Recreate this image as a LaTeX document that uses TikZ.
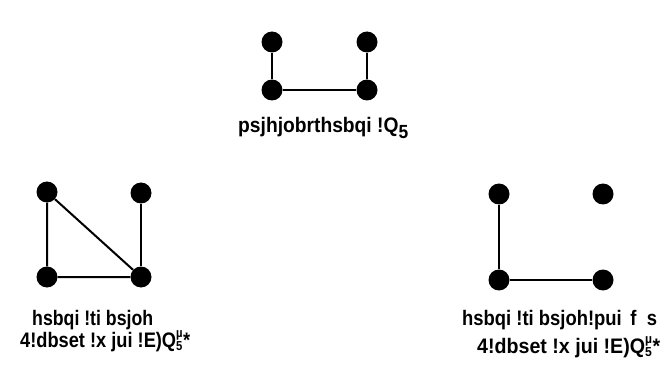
\documentclass[tikz,border=0pt]{standalone}
\usepackage{fontspec}
\setmainfont{Liberation Sans}
\usepackage{graphicx}
\newcommand{\subsup}{\ensuremath{{}^{\raisebox{-2pt}{\fontsize{13}{13}\selectfont µ}}_{\raisebox{0pt}{\fontsize{13}{13}\selectfont\bfseries 5}}}}
\newcommand{\fitw}[2]{\resizebox{#1}{\height}{#2}}
\begin{document}
\begin{tikzpicture}[x=1pt,y=-1pt,
  vtx/.style={circle,fill=black,inner sep=0pt,minimum size=21pt},
  edg/.style={line width=2pt},
  lbl/.style={inner sep=0pt,anchor=base west,font=\fontsize{21}{23}\selectfont\bfseries}]
\useasboundingbox (0,0) rectangle (662,377);
% top graph
\node[vtx] (a1) at (272,42) {};
\node[vtx] (a2) at (367,42) {};
\node[vtx] (a3) at (272,90) {};
\node[vtx] (a4) at (367,90) {};
\draw[edg] (a1) -- (a3) -- (a4) -- (a2);
\node[lbl] (t1) at (238,133) {\fitw{170pt}{psjhjobrthsbqi !Q\raisebox{-6pt}{\fontsize{19}{19}\selectfont 5}}};
% left graph
\node[vtx] (b1) at (47,192) {};
\node[vtx] (b2) at (141,193) {};
\node[vtx] (b3) at (47,277) {};
\node[vtx] (b4) at (141,277) {};
\draw[edg] (b1) -- (b3) -- (b4) -- (b1);
\draw[edg] (b2) -- (b4);
\node[lbl] (l1) at (32,325) {\fitw{121pt}{hsbqi !ti bsjoh}};
\node[lbl] (l2) at (20,347) {\fitw{170pt}{4!dbset !x jui !E)Q\subsup*}};
% right graph
\node[vtx] (c1) at (499,194) {};
\node[vtx] (c2) at (603,194) {};
\node[vtx] (c3) at (499,280) {};
\node[vtx] (c4) at (603,280) {};
\draw[edg] (c1) -- (c3) -- (c4);
\node[lbl] (r1) at (462,325) {\fitw{195pt}{hsbqi !ti bsjoh!pui\hspace{4pt} f\hspace{6pt} s}};
\node[lbl] (r2) at (477,353) {\fitw{183pt}{4!dbset !x jui !E)Q\subsup*}};
\end{tikzpicture}
\end{document}
